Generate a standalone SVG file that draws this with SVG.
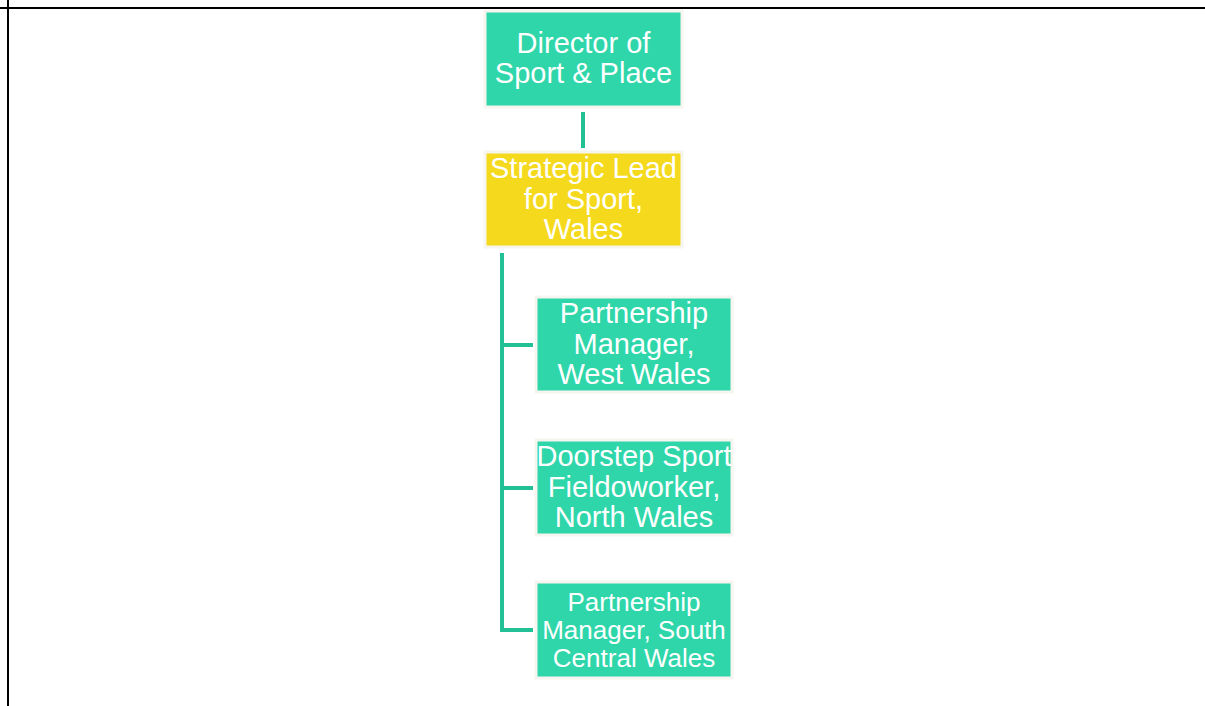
<svg xmlns="http://www.w3.org/2000/svg" width="1205" height="706" viewBox="0 0 1205 706">
<style>
.t{fill:#2ed6aa;stroke:#f7f5ef;stroke-width:3}
.y{fill:#f5d91d;stroke:#f7f5ef;stroke-width:3}
text{font-family:"Liberation Sans",Arial,sans-serif;fill:#ffffff;text-anchor:middle;font-size:29px}
.s{font-size:26px}
.c{stroke:#22c095;stroke-width:4;fill:none}
</style>
<rect width="1205" height="706" fill="#ffffff"/>
<g id="frame" stroke="#000" stroke-width="2" fill="none">
<line x1="0" y1="8" x2="1205" y2="8"/>
<line x1="8" y1="0" x2="8" y2="706"/>
</g>
<g id="connectors">
<line class="c" x1="583" y1="112" x2="583" y2="148" stroke="#1fa985"/>
<polyline class="c" points="502,253 502,630 533,630"/>
<line class="c" x1="502" y1="345" x2="533" y2="345"/>
<line class="c" x1="502" y1="488" x2="533" y2="488"/>
</g>
<g id="director">
<rect class="t" x="485" y="11" width="197" height="96"/>
<text x="583.5" y="53">Director of</text>
<text x="583.5" y="83">Sport &amp; Place</text>
</g>
<g id="strategic">
<rect class="y" x="485" y="152" width="197" height="95"/>
<text x="583.5" y="178">Strategic Lead</text>
<text x="583.5" y="209">for Sport,</text>
<text x="583.5" y="239">Wales</text>
</g>
<g id="west">
<rect class="t" x="536" y="297" width="196" height="95"/>
<text x="634" y="323">Partnership</text>
<text x="634" y="354">Manager,</text>
<text x="634" y="384">West Wales</text>
</g>
<g id="north">
<rect class="t" x="536" y="440" width="196" height="95"/>
<text x="634" y="466">Doorstep Sport</text>
<text x="634" y="497">Fieldoworker,</text>
<text x="634" y="527">North Wales</text>
</g>
<g id="southcentral">
<rect class="t" x="536" y="582" width="196" height="96"/>
<text class="s" x="634" y="611">Partnership</text>
<text class="s" x="634" y="639">Manager, South</text>
<text class="s" x="634" y="667">Central Wales</text>
</g>
</svg>
